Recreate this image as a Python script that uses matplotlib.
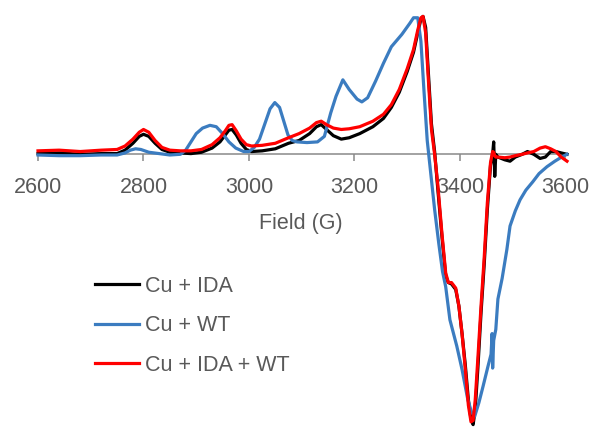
import matplotlib
matplotlib.use("Agg")
import matplotlib.pyplot as plt

plt.rcParams['font.family'] = ['Liberation Sans', 'DejaVu Sans']

# Cu + IDA
field_ida = [2600, 2640, 2680, 2720, 2750, 2765, 2780, 2792, 2800, 2810,
             2822, 2835, 2850, 2870, 2890, 2910, 2930, 2945, 2955, 2962,
             2968, 2976, 2985, 2995, 3005, 3025, 3050, 3075, 3095, 3115,
             3128, 3137, 3147, 3160, 3175, 3190, 3210, 3235, 3255, 3270,
             3285, 3300, 3312, 3320, 3326, 3330, 3335, 3340, 3346, 3352,
             3358, 3366, 3373, 3378, 3384, 3392, 3398, 3404, 3410, 3416,
             3421, 3425, 3429, 3434, 3440, 3446, 3452, 3458, 3462, 3464,
             3466, 3468, 3472, 3485, 3495, 3505, 3518, 3528, 3540, 3552,
             3562, 3572, 3582, 3592, 3603]
signal_ida = [0.005, 0.01, 0.0, 0.005, 0.005, 0.03, 0.08, 0.13, 0.145, 0.13,
              0.08, 0.035, 0.015, 0.01, 0.005, 0.015, 0.045, 0.09, 0.14, 0.175,
              0.18, 0.14, 0.08, 0.035, 0.02, 0.025, 0.04, 0.08, 0.10, 0.15,
              0.20, 0.215, 0.18, 0.135, 0.11, 0.12, 0.15, 0.20, 0.26, 0.34,
              0.45, 0.60, 0.74, 0.88, 0.98, 1.0, 0.92, 0.60, 0.22, 0.02,
              -0.25, -0.60, -0.88, -0.93, -0.94, -0.98, -1.10, -1.30, -1.52, -1.78,
              -1.92, -1.96, -1.85, -1.55, -1.15, -0.80, -0.40, -0.08, 0.0, 0.09,
              -0.16, 0.0, -0.02, -0.04, -0.05, -0.02, 0.0, 0.02, 0.0, -0.03,
              -0.02, 0.02, 0.02, 0.01, 0.0]

# Cu + WT
field_wt = [2600, 2640, 2680, 2720, 2750, 2765, 2775, 2785, 2795, 2810,
            2830, 2850, 2870, 2880, 2890, 2900, 2912, 2926, 2938, 2950,
            2962, 2975, 2990, 3000, 3010, 3020, 3030, 3040, 3049, 3058,
            3066, 3074, 3082, 3091, 3110, 3130, 3143, 3155, 3165, 3178,
            3190, 3205, 3214, 3225, 3240, 3255, 3270, 3290, 3305, 3312,
            3320, 3326, 3332, 3338, 3345, 3352, 3360, 3367, 3373, 3381,
            3394, 3404, 3415, 3422, 3428, 3436, 3444, 3453, 3459, 3461,
            3462, 3464, 3468, 3472, 3480, 3489, 3495, 3505, 3514, 3525,
            3538, 3550, 3565, 3580, 3595, 3603]
signal_wt = [-0.005, -0.01, -0.01, -0.005, -0.005, 0.01, 0.03, 0.04, 0.035, 0.015,
             0.005, -0.005, 0.0, 0.03, 0.09, 0.15, 0.19, 0.21, 0.20, 0.15,
             0.09, 0.045, 0.02, 0.02, 0.05, 0.11, 0.22, 0.33, 0.375, 0.34,
             0.24, 0.14, 0.10, 0.09, 0.085, 0.09, 0.13, 0.30, 0.42, 0.54,
             0.47, 0.40, 0.38, 0.41, 0.53, 0.66, 0.78, 0.87, 0.95, 0.99,
             0.99, 0.82, 0.45, 0.10, -0.15, -0.40, -0.65, -0.85, -0.96, -1.20,
             -1.39, -1.56, -1.78, -1.87, -1.90, -1.80, -1.68, -1.54, -1.45, -1.30,
             -1.55, -1.35, -1.27, -1.05, -0.90, -0.69, -0.52, -0.41, -0.33, -0.26,
             -0.20, -0.14, -0.09, -0.05, -0.015, 0.0]

# Cu + IDA + WT
field_mix = field_ida
signal_mix = [0.025, 0.03, 0.02, 0.03, 0.035, 0.06, 0.11, 0.16, 0.18, 0.16,
              0.10, 0.05, 0.03, 0.025, 0.025, 0.035, 0.07, 0.12, 0.17, 0.21,
              0.215, 0.17, 0.11, 0.07, 0.06, 0.065, 0.08, 0.12, 0.15, 0.19,
              0.23, 0.24, 0.215, 0.19, 0.18, 0.185, 0.20, 0.24, 0.29, 0.36,
              0.47, 0.62, 0.76, 0.90, 0.99, 1.0, 0.88, 0.55, 0.18, 0.0,
              -0.22, -0.58, -0.86, -0.93, -0.93, -0.97, -1.10, -1.30, -1.55, -1.82,
              -1.94, -1.93, -1.78, -1.48, -1.10, -0.75, -0.35, -0.06, 0.02, 0.015,
              -0.01, -0.02, -0.02, -0.025, -0.02, -0.01, 0.0, 0.01, 0.02, 0.045,
              0.055, 0.04, 0.02, -0.02, -0.05]

labels = ["Cu + IDA", "Cu + WT", "Cu + IDA + WT"]
colors = ["#000000", "#3b7cc0", "#ff0000"]
xticks = [2600, 2800, 3000, 3200, 3400, 3600]

fig = plt.figure(figsize=(5.93, 4.28), dpi=100)
ax = fig.add_axes([38 / 593, 1 - 426 / 428, 529 / 593, 411 / 428])

ax.plot(field_ida, signal_ida, color=colors[0], lw=2.3, label=labels[0], zorder=3, clip_on=False)
ax.plot(field_wt, signal_wt, color=colors[1], lw=2.3, label=labels[1], zorder=4, clip_on=False)
ax.plot(field_mix, signal_mix, color=colors[2], lw=2.3, label=labels[2], zorder=5, clip_on=False)

ax.set_xlim(2600, 3603)
ax.set_ylim(-1.97, 1.01)

for s in ['left', 'right', 'top']:
    ax.spines[s].set_visible(False)
ax.spines['bottom'].set_position(('data', 0))
ax.spines['bottom'].set_color('#898989')
ax.spines['bottom'].set_linewidth(1.1)
ax.spines['bottom'].set_zorder(1)
ax.set_yticks([])
ax.set_xticks(xticks)
ax.tick_params(axis='x', direction='out', length=5, width=1.1, color='#898989',
               labelsize=15.5, labelcolor='#595959', pad=11)

fig.text(301 / 593, 1 - 224 / 428, "Field (G)", ha='center', va='center',
         fontsize=15.5, color='#595959')

leg = ax.legend(loc='upper left', bbox_to_anchor=(95 / 593, 1 - 276 / 428),
                bbox_transform=fig.transFigure, frameon=False, fontsize=15.5,
                handlelength=2.05, handletextpad=0.25, labelspacing=0.85,
                borderpad=0, borderaxespad=0)
for t in leg.get_texts():
    t.set_color('#595959')

fig.savefig("out.png", dpi=100)
